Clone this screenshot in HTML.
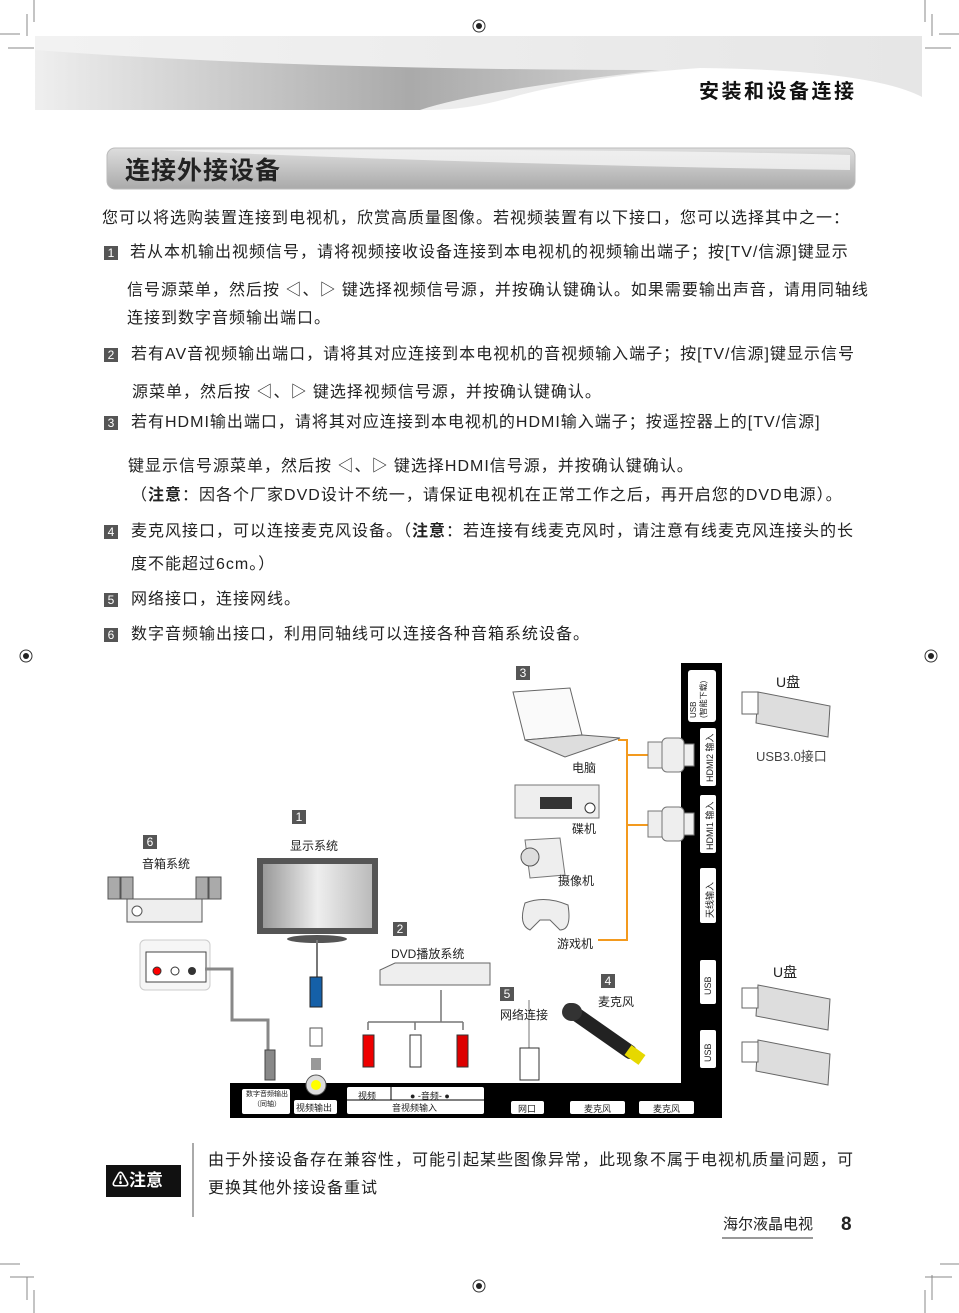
<!DOCTYPE html>
<html><head><meta charset="utf-8"><style>
body{margin:0;width:959px;height:1313px;position:relative;overflow:hidden;background:#fff;font-family:"Liberation Sans","Noto Sans CJK SC",sans-serif;color:#222}
.t{position:absolute;font-size:16px;white-space:nowrap;line-height:20px;letter-spacing:1px}
.n{position:absolute;width:14px;height:14px;background:#555;color:#fff;font-size:12px;line-height:14px;text-align:center}
.s{position:absolute;font-size:12px;white-space:nowrap}
</style></head><body>
<svg width="959" height="1313" style="position:absolute;left:0;top:0">
<defs>
<linearGradient id="g1" x1="0" x2="1"><stop offset="0" stop-color="#f2f2f2"/><stop offset="1" stop-color="#e6e6e6"/></linearGradient>
<linearGradient id="g2" x1="0" x2="1"><stop offset="0" stop-color="#eee"/><stop offset="0.6" stop-color="#999"/><stop offset="1" stop-color="#ccc"/></linearGradient>
<linearGradient id="g3" x1="0" y1="0" x2="0" y2="1"><stop offset="0" stop-color="#ddd"/><stop offset="1" stop-color="#aaa"/></linearGradient>
<linearGradient id="tv" x1="0" x2="1"><stop offset="0" stop-color="#999"/><stop offset="0.5" stop-color="#eee"/><stop offset="1" stop-color="#bbb"/></linearGradient>
</defs>
<g stroke="#888" stroke-width="1">
<line x1="0" y1="34" x2="20" y2="34"/><line x1="8" y1="48" x2="34" y2="48"/><line x1="27" y1="14" x2="27" y2="36"/><line x1="34" y1="0" x2="34" y2="22"/>
<line x1="925" y1="0" x2="925" y2="22"/><line x1="932" y1="14" x2="932" y2="36"/><line x1="939" y1="34" x2="959" y2="34"/><line x1="925" y1="48" x2="951" y2="48"/>
<line x1="0" y1="1264" x2="20" y2="1264"/><line x1="10" y1="1277" x2="34" y2="1277"/><line x1="27" y1="1277" x2="27" y2="1300"/><line x1="34" y1="1290" x2="34" y2="1313"/>
<line x1="940" y1="1264" x2="959" y2="1264"/><line x1="925" y1="1277" x2="952" y2="1277"/><line x1="925" y1="1290" x2="925" y2="1313"/><line x1="932" y1="1275" x2="932" y2="1300"/>
</g>
<g fill="none" stroke="#333"><circle cx="479" cy="26" r="6"/><circle cx="26" cy="656" r="6"/><circle cx="931" cy="656" r="6"/><circle cx="479" cy="1286" r="6"/></g>
<g fill="#222"><circle cx="479" cy="26" r="3"/><circle cx="26" cy="656" r="3"/><circle cx="931" cy="656" r="3"/><circle cx="479" cy="1286" r="3"/></g>
<path d="M35 36 H922 V97 Q870 70 700 68 Q600 75 520 95 Q470 110 430 110 H35 Z" fill="url(#g1)"/>
<path d="M35 50 Q300 70 660 70 Q480 90 420 110 H35 Z" fill="url(#g2)" opacity="0.8"/>
<rect x="107" y="148" width="748" height="41" rx="8" fill="url(#g3)" stroke="#bbb"/>
<path d="M160 150 Q500 165 850 170 V155 Q600 148 160 150Z" fill="#f4f4f4" opacity="0.8"/>
<path d="M681 663 H722 V1118 H230 V1083 H681 Z" fill="#000"/>
<g fill="#fff">
<rect x="688" y="670" width="28" height="52" rx="3"/>
<rect x="700" y="728" width="16" height="58" rx="2"/>
<rect x="700" y="795" width="16" height="58" rx="2"/>
<rect x="700" y="868" width="16" height="55" rx="2"/>
<rect x="700" y="960" width="16" height="44" rx="2"/>
<rect x="700" y="1030" width="16" height="38" rx="2"/>
<rect x="242" y="1089" width="48" height="25" rx="2"/>
<rect x="294" y="1100" width="43" height="14" rx="2"/>
<rect x="347" y="1087" width="137" height="27" rx="2"/>
<rect x="511" y="1101" width="33" height="13" rx="2"/>
<rect x="570" y="1101" width="55" height="13" rx="2"/>
<rect x="639" y="1101" width="55" height="13" rx="2"/>
</g>
<line x1="347" y1="1100" x2="484" y2="1100" stroke="#000"/><line x1="391" y1="1087" x2="391" y2="1100" stroke="#000"/>
<path d="M618 740 H627 V940 H598 M627 755 H648 M627 825 H648" fill="none" stroke="#f39a1e" stroke-width="2"/>
<g fill="#eee" stroke="#777"><rect x="648" y="742" width="14" height="26"/><rect x="662" y="738" width="22" height="34" rx="5"/><rect x="684" y="744" width="10" height="22"/>
<rect x="648" y="811" width="14" height="26"/><rect x="662" y="807" width="22" height="34" rx="5"/><rect x="684" y="813" width="10" height="22"/></g>
<path d="M513 692 L570 688 L582 735 L525 740 Z" fill="#fafafa" stroke="#666"/>
<path d="M525 740 L582 735 L620 738 L565 757 Z" fill="#ddd" stroke="#666"/>
<rect x="515" y="785" width="84" height="33" fill="#eee" stroke="#777"/><rect x="540" y="797" width="32" height="12" fill="#333"/><circle cx="590" cy="808" r="5" fill="#fff" stroke="#333"/>
<path d="M525 840 L560 838 L565 875 L530 878 Z" fill="#eee" stroke="#777"/><circle cx="530" cy="857" r="9" fill="#ddd" stroke="#555"/>
<path d="M525 903 Q545 895 568 905 Q572 930 560 930 L550 920 H540 L530 930 Q518 925 525 903Z" fill="#eee" stroke="#666"/>
<g fill="#ddd" stroke="#666"><path d="M758 692 L830 706 L828 737 L756 723 Z"/><rect x="742" y="692" width="16" height="22" fill="#fff"/>
<path d="M758 985 L830 999 L828 1030 L756 1016 Z"/><rect x="742" y="988" width="16" height="20" fill="#fff"/>
<path d="M758 1040 L830 1054 L828 1085 L756 1071 Z"/><rect x="742" y="1042" width="16" height="20" fill="#fff"/></g>
<g fill="#aaa" stroke="#555"><rect x="108" y="877" width="12" height="22"/><rect x="121" y="877" width="12" height="22"/><rect x="196" y="877" width="12" height="22"/><rect x="209" y="877" width="12" height="22"/></g>
<rect x="127" y="899" width="75" height="23" fill="#eee" stroke="#555"/><circle cx="137" cy="911" r="5" fill="#fff" stroke="#555"/>
<rect x="140" y="940" width="70" height="50" rx="5" fill="#f6f6f6" stroke="#ccc"/>
<rect x="146" y="952" width="60" height="30" fill="#fff" stroke="#444"/>
<circle cx="157" cy="971" r="4" fill="#f00" stroke="#333"/><circle cx="175" cy="971" r="4" fill="#fff" stroke="#333"/><circle cx="192" cy="971" r="4" fill="#333"/>
<path d="M205 969 H232 V1020 H268 V1050" fill="none" stroke="#888" stroke-width="3"/>
<rect x="265" y="1050" width="10" height="30" fill="#888" stroke="#444"/>
<rect x="257" y="858" width="121" height="76" fill="#555"/><rect x="263" y="864" width="109" height="64" fill="url(#tv)"/>
<ellipse cx="317" cy="939" rx="30" ry="4" fill="#555"/>
<line x1="317" y1="940" x2="317" y2="977" stroke="#777" stroke-width="2"/>
<rect x="310" y="977" width="12" height="30" fill="#1560a8" stroke="#222"/>
<rect x="310" y="1028" width="12" height="18" fill="#fff" stroke="#555"/><rect x="311" y="1058" width="10" height="12" fill="#999"/>
<circle cx="316" cy="1085" r="10" fill="#ddd" stroke="#555"/><circle cx="316" cy="1085" r="5" fill="#ff0"/>
<path d="M380 970 L395 963 H490 V985 H380 Z" fill="#eee" stroke="#666"/>
<path d="M441 990 V1022 M368 1022 H463 M368 1022 V1030 M415 1022 V1030 M463 1022 V1030" fill="none" stroke="#777" stroke-width="1.5"/>
<rect x="363" y="1035" width="11" height="32" fill="#e00" stroke="#333"/><rect x="410" y="1035" width="11" height="32" fill="#fff" stroke="#333"/><rect x="457" y="1035" width="11" height="32" fill="#d00" stroke="#333"/>
<line x1="529" y1="1000" x2="529" y2="1048" stroke="#777"/><rect x="520" y="1048" width="19" height="32" fill="#fff" stroke="#333"/>
<path d="M570 1010 L630 1052" stroke="#222" stroke-width="14" stroke-linecap="round"/><ellipse cx="572" cy="1012" rx="10" ry="9" fill="#333"/>
<path d="M628 1050 L642 1060" stroke="#e6d800" stroke-width="12"/>
<line x1="193" y1="1143" x2="193" y2="1217" stroke="#555"/>
<rect x="106" y="1165" width="75" height="32" fill="#111"/>
<line x1="722" y1="1238" x2="813" y2="1238" stroke="#333"/>
</svg>

<div class="t" style="left:699px;top:82px;font-size:20px;font-weight:bold;color:#111;letter-spacing:2.5px">安装和设备连接</div>
<div class="t" style="left:125px;top:156px;font-size:25px;line-height:30px;font-weight:bold;color:#222;letter-spacing:1px">连接外接设备</div>

<div class="t" style="left:102px;top:209px">您可以将选购装置连接到电视机，欣赏高质量图像。若视频装置有以下接口，您可以选择其中之一：</div>
<div class="n" style="left:104px;top:246px">1</div>
<div class="t" style="left:130px;top:243px">若从本机输出视频信号，请将视频接收设备连接到本电视机的视频输出端子；按[TV/信源]键显示</div>
<div class="t" style="left:127px;top:281px">信号源菜单，然后按 ◁、▷ 键选择视频信号源，并按确认键确认。如果需要输出声音，请用同轴线</div>
<div class="t" style="left:127px;top:309px">连接到数字音频输出端口。</div>
<div class="n" style="left:104px;top:348px">2</div>
<div class="t" style="left:131px;top:345px">若有AV音视频输出端口，请将其对应连接到本电视机的音视频输入端子；按[TV/信源]键显示信号</div>
<div class="t" style="left:132px;top:383px">源菜单，然后按 ◁、▷ 键选择视频信号源，并按确认键确认。</div>
<div class="n" style="left:104px;top:416px">3</div>
<div class="t" style="left:131px;top:413px">若有HDMI输出端口，请将其对应连接到本电视机的HDMI输入端子；按遥控器上的[TV/信源]</div>
<div class="t" style="left:128px;top:457px">键显示信号源菜单，然后按 ◁、▷ 键选择HDMI信号源，并按确认键确认。</div>
<div class="t" style="left:131px;top:486px">（<b>注意</b>：因各个厂家DVD设计不统一，请保证电视机在正常工作之后，再开启您的DVD电源）。</div>
<div class="n" style="left:104px;top:525px">4</div>
<div class="t" style="left:131px;top:522px">麦克风接口，可以连接麦克风设备。（<b>注意</b>：若连接有线麦克风时，请注意有线麦克风连接头的长</div>
<div class="t" style="left:131px;top:555px">度不能超过6cm。）</div>
<div class="n" style="left:104px;top:593px">5</div>
<div class="t" style="left:131px;top:590px">网络接口，连接网线。</div>
<div class="n" style="left:104px;top:628px">6</div>
<div class="t" style="left:131px;top:625px">数字音频输出接口，利用同轴线可以连接各种音箱系统设备。</div>

<div class="n" style="left:516px;top:666px">3</div>
<div class="n" style="left:292px;top:810px">1</div>
<div class="n" style="left:143px;top:835px">6</div>
<div class="n" style="left:393px;top:922px">2</div>
<div class="n" style="left:601px;top:974px">4</div>
<div class="n" style="left:500px;top:987px">5</div>
<div class="s" style="left:572px;top:759px">电脑</div>
<div class="s" style="left:572px;top:820px">碟机</div>
<div class="s" style="left:558px;top:872px">摄像机</div>
<div class="s" style="left:557px;top:935px">游戏机</div>
<div class="s" style="left:290px;top:837px">显示系统</div>
<div class="s" style="left:142px;top:855px">音箱系统</div>
<div class="s" style="left:391px;top:945px">DVD播放系统</div>
<div class="s" style="left:598px;top:993px">麦克风</div>
<div class="s" style="left:500px;top:1006px">网络连接</div>
<div class="t" style="left:776px;top:672px;font-size:14px;letter-spacing:0">U盘</div>
<div class="s" style="left:756px;top:746px;font-size:13px;color:#444">USB3.0接口</div>
<div class="t" style="left:773px;top:962px;font-size:14px;letter-spacing:0">U盘</div>
<div class="s" style="left:689px;top:718px;font-size:8px;line-height:10px;transform:rotate(-90deg);transform-origin:0 0">USB<br>(智能下载)</div>
<div class="s" style="left:703px;top:782px;font-size:9px;transform:rotate(-90deg);transform-origin:0 0">HDMI2 输入</div>
<div class="s" style="left:703px;top:850px;font-size:9px;transform:rotate(-90deg);transform-origin:0 0">HDMI1 输入</div>
<div class="s" style="left:703px;top:918px;font-size:9px;transform:rotate(-90deg);transform-origin:0 0">天线输入</div>
<div class="s" style="left:703px;top:995px;font-size:9px;transform:rotate(-90deg);transform-origin:0 0">USB</div>
<div class="s" style="left:703px;top:1062px;font-size:9px;transform:rotate(-90deg);transform-origin:0 0">USB</div>
<div class="s" style="left:243px;top:1090px;font-size:7px;line-height:10px;text-align:center;width:48px">数字音频输出<br>（同轴）</div>
<div class="s" style="left:296px;top:1101px;font-size:9px">视频输出</div>
<div class="s" style="left:358px;top:1089px;font-size:9px">视频</div>
<div class="s" style="left:410px;top:1089px;font-size:9px">● -音频- ●</div>
<div class="s" style="left:392px;top:1101px;font-size:9px">音视频输入</div>
<div class="s" style="left:518px;top:1102px;font-size:9px">网口</div>
<div class="s" style="left:584px;top:1102px;font-size:9px">麦克风</div>
<div class="s" style="left:653px;top:1102px;font-size:9px">麦克风</div>

<div class="t" style="left:112px;top:1171px;font-size:17px;font-weight:bold;color:#fff;letter-spacing:0">⚠注意</div>
<div class="t" style="left:208px;top:1151px">由于外接设备存在兼容性，可能引起某些图像异常，此现象不属于电视机质量问题，可</div>
<div class="t" style="left:208px;top:1179px">更换其他外接设备重试</div>
<div class="t" style="left:723px;top:1215px;font-size:15px;letter-spacing:0">海尔液晶电视</div>
<div class="t" style="left:841px;top:1215px;font-size:19px;font-weight:bold">8</div>
</body></html>
